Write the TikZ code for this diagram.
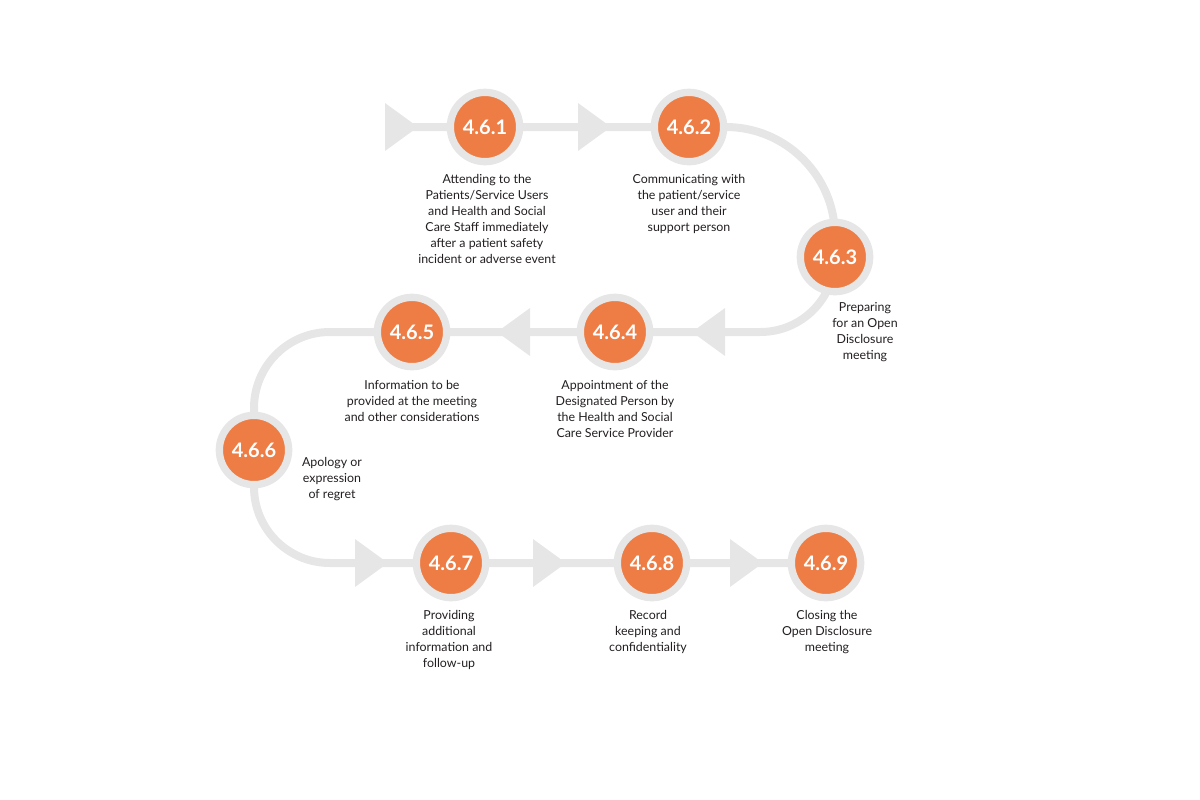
\documentclass[tikz,border=0pt]{standalone}
\usepackage{fontspec}
\setmainfont{Lato}
\definecolor{org}{HTML}{EE7D45}
\definecolor{gry}{HTML}{E6E6E6}
\definecolor{txt}{HTML}{231F20}
\begin{document}
\begin{tikzpicture}[x=0.75pt,y=-0.75pt,
  stepc/.style={circle,fill=org,draw=gry,line width=5.5pt,minimum size=52pt,inner sep=0pt,text=white,font=\fontsize{15}{15}\selectfont\bfseries},
  lbl/.style={anchor=north,align=center,text=txt,font=\fontsize{9.3}{12}\selectfont,inner sep=0pt},
  trk/.style={draw=gry,line width=6pt}]
\useasboundingbox (0,0) rectangle (1200,800);
% track
\draw[trk,rounded corners=82pt] (385,127)--(835,127)--(835,257);
\draw[trk,rounded corners=56pt] (835,257)--(835,332)--(615,332);
\draw[trk,rounded corners=57pt] (615,332)--(254,332)--(254,450);
\draw[trk,rounded corners=57pt] (254,450)--(254,563)--(826,563);
% triangles
\foreach \x/\y in {385/127,578/127,355/563,533/563,730/563}
  \fill[gry] (\x,\y-24)--(\x+33,\y)--(\x,\y+24)--cycle;
\foreach \x/\y in {725/332,530/332}
  \fill[gry] (\x,\y-24)--(\x-33,\y)--(\x,\y+24)--cycle;
% circles
\node[stepc] (s1) at (485,127) {4.6.1};
\node[stepc] (s2) at (689,127) {4.6.2};
\node[stepc] (s3) at (835,257) {4.6.3};
\node[stepc] (s4) at (615,332) {4.6.4};
\node[stepc] (s5) at (412,332) {4.6.5};
\node[stepc] (s6) at (254,450) {4.6.6};
\node[stepc] (s7) at (451,563) {4.6.7};
\node[stepc] (s8) at (652,563) {4.6.8};
\node[stepc] (s9) at (826,563) {4.6.9};
% labels
\node[lbl] (l1) at (487,174) {Attending to the\\Patients/Service Users\\and Health and Social\\Care Staff immediately\\after a patient safety\\incident or adverse event};
\node[lbl] (l2) at (689,174) {Communicating with\\the patient/service\\user and their\\support person};
\node[lbl] (l3) at (865,302) {Preparing\\for an Open\\Disclosure\\meeting};
\node[lbl] (l4) at (615,380) {Appointment of the\\Designated Person by\\the Health and Social\\Care Service Provider};
\node[lbl] (l5) at (412,380) {Information to be\\provided at the meeting\\and other considerations};
\node[lbl] (l6) at (332,457) {Apology or\\expression\\of regret};
\node[lbl] (l7) at (449,610) {Providing\\additional\\information and\\follow-up};
\node[lbl] (l8) at (648,610) {Record\\keeping and\\confidentiality};
\node[lbl] (l9) at (827,610) {Closing the\\Open Disclosure\\meeting};
\end{tikzpicture}
\end{document}
